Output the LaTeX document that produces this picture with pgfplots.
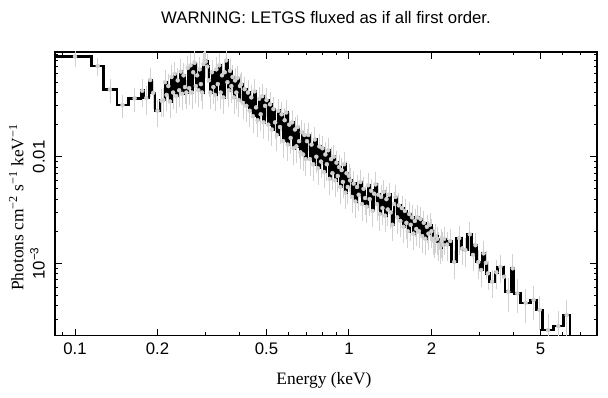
\documentclass[border=0pt]{standalone}
\usepackage{pgfplots}
\pgfplotsset{compat=1.18}
\usepackage{pgfplotstable}
\usepackage{fontspec}
\setmainfont{Liberation Sans}
\newfontfamily\serif{Liberation Serif}

% x = left bin edge (keV), xc = error-bar position, y = flux, e = relative error
\pgfplotstableread{
x xc y e
0.080 0.100 0.0871 0.2
0.115 0.121 0.0710 0.2
0.127 0.134 0.0427 0.25
0.142 0.149 0.0305 0.25
0.157 0.165 0.0353 0.25
0.174 0.176 0.0416 0.3
0.178 0.182 0.0355 0.3
0.186 0.188 0.0524 0.3
0.1905 0.193 0.0398 0.3
0.196 0.200 0.0270 0.3
0.204 0.207 0.0335 0.3
0.210 0.210 0.034 0.3
0.213 0.213 0.050 0.3
0.216 0.216 0.038 0.3
0.219 0.219 0.046 0.3
0.222 0.222 0.033 0.3
0.225 0.225 0.056 0.3
0.228 0.228 0.040 0.3
0.231 0.231 0.060 0.3
0.234 0.234 0.037 0.3
0.237 0.237 0.052 0.3
0.240 0.240 0.042 0.3
0.243 0.243 0.063 0.3
0.246 0.246 0.039 0.3
0.249 0.249 0.058 0.3
0.252 0.252 0.045 0.3
0.255 0.255 0.040 0.3
0.258 0.258 0.068 0.3
0.261 0.261 0.044 0.3
0.264 0.264 0.072 0.3
0.267 0.267 0.040 0.3
0.270 0.270 0.062 0.3
0.273 0.273 0.076 0.3
0.276 0.276 0.046 0.3
0.279 0.279 0.058 0.3
0.282 0.282 0.042 0.3
0.285 0.285 0.066 0.3
0.288 0.288 0.048 0.3
0.291 0.291 0.040 0.3
0.294 0.294 0.074 0.3
0.297 0.297 0.080 0.3
0.300 0.300 0.078 0.3
0.304 0.304 0.070 0.3
0.308 0.308 0.052 0.3
0.312 0.312 0.040 0.3
0.316 0.316 0.062 0.3
0.320 0.320 0.045 0.3
0.324 0.324 0.038 0.3
0.328 0.328 0.066 0.3
0.332 0.332 0.048 0.3
0.336 0.336 0.072 0.3
0.340 0.340 0.040 0.3
0.344 0.344 0.058 0.3
0.348 0.348 0.036 0.3
0.352 0.352 0.062 0.3
0.356 0.356 0.080 0.3
0.360 0.360 0.050 0.3
0.364 0.364 0.042 0.3
0.368 0.368 0.064 0.3
0.372 0.372 0.046 0.3
0.376 0.376 0.056 0.3
0.380 0.380 0.036 0.3
0.384 0.384 0.052 0.3
0.388 0.388 0.040 0.3
0.392 0.392 0.055 0.3
0.396 0.396 0.034 0.3
0.400 0.400 0.046 0.3
0.404 0.404 0.048 0.3
0.410 0.410 0.032 0.3
0.416 0.416 0.043 0.3
0.422 0.422 0.030 0.3
0.428 0.428 0.040 0.3
0.434 0.434 0.027 0.3
0.440 0.440 0.036 0.3
0.446 0.446 0.024 0.3
0.452 0.452 0.041 0.3
0.458 0.458 0.029 0.3
0.464 0.464 0.022 0.3
0.470 0.470 0.035 0.3
0.476 0.476 0.025 0.3
0.482 0.482 0.037 0.3
0.488 0.488 0.021 0.3
0.494 0.494 0.030 0.3
0.5000 0.5000 0.034 0.3
0.5075 0.5075 0.020 0.3
0.5150 0.5150 0.031 0.3
0.5225 0.5225 0.018 0.3
0.5300 0.5300 0.028 0.3
0.5375 0.5375 0.021 0.3
0.5450 0.5450 0.016 0.3
0.5525 0.5525 0.027 0.3
0.5600 0.5600 0.019 0.3
0.5675 0.5675 0.025 0.3
0.5750 0.5750 0.014 0.3
0.5825 0.5825 0.022 0.3
0.5900 0.5900 0.026 0.3
0.5975 0.5975 0.013 0.3
0.6050 0.6050 0.020 0.3
0.6125 0.6125 0.015 0.3
0.6200 0.6200 0.021 0.3
0.6275 0.6275 0.012 0.3
0.6350 0.6350 0.018 0.3
0.6425 0.6425 0.0125 0.3
0.6500 0.6500 0.019 0.3
0.6575 0.6575 0.014 0.3
0.6650 0.6650 0.011 0.3
0.6725 0.6725 0.017 0.3
0.6800 0.6800 0.0105 0.3
0.6875 0.6875 0.016 0.3
0.6950 0.6950 0.0095 0.3
0.7025 0.7025 0.014 0.3
0.71 0.71 0.0160 0.3
0.72 0.72 0.0095 0.3
0.73 0.73 0.0130 0.3
0.74 0.74 0.0085 0.3
0.75 0.75 0.0145 0.3
0.76 0.76 0.0100 0.3
0.77 0.77 0.0078 0.3
0.78 0.78 0.0125 0.3
0.79 0.79 0.0090 0.3
0.80 0.80 0.0120 0.3
0.81 0.81 0.0072 0.3
0.82 0.82 0.0105 0.3
0.83 0.83 0.0085 0.3
0.84 0.84 0.0115 0.3
0.85 0.85 0.0062 0.3
0.86 0.86 0.0095 0.3
0.87 0.87 0.0070 0.3
0.88 0.88 0.0100 0.3
0.89 0.89 0.0060 0.3
0.90 0.90 0.0088 0.3
0.91 0.91 0.0066 0.3
0.92 0.92 0.0080 0.3
0.93 0.93 0.0052 0.3
0.94 0.94 0.0075 0.3
0.95 0.95 0.0058 0.3
0.96 0.96 0.0085 0.3
0.97 0.97 0.0046 0.3
0.98 0.98 0.0070 0.3
0.99 0.99 0.0052 0.3
1.00 1.00 0.0066 0.3
1.010 1.010 0.0060 0.3
1.025 1.025 0.0042 0.3
1.040 1.040 0.0056 0.3
1.055 1.055 0.0038 0.3
1.070 1.070 0.0052 0.3
1.085 1.085 0.0044 0.3
1.100 1.100 0.0058 0.3
1.115 1.115 0.0036 0.3
1.130 1.130 0.0050 0.3
1.145 1.145 0.0041 0.3
1.160 1.160 0.0034 0.3
1.175 1.175 0.0054 0.3
1.190 1.190 0.0040 0.3
1.205 1.205 0.0048 0.3
1.220 1.220 0.0031 0.3
1.235 1.235 0.0045 0.3
1.250 1.250 0.0055 0.3
1.265 1.265 0.0036 0.3
1.280 1.280 0.0044 0.3
1.295 1.295 0.0029 0.3
1.310 1.310 0.0042 0.3
1.325 1.325 0.0033 0.3
1.340 1.340 0.0047 0.3
1.355 1.355 0.0028 0.3
1.370 1.370 0.0040 0.3
1.385 1.385 0.0032 0.3
1.40 1.40 0.0044 0.3
1.42 1.42 0.0030 0.3
1.44 1.44 0.0023 0.3
1.46 1.46 0.0036 0.3
1.48 1.48 0.0042 0.3
1.50 1.50 0.0027 0.3
1.52 1.52 0.0035 0.3
1.54 1.54 0.0025 0.3
1.56 1.56 0.0033 0.3
1.58 1.58 0.0022 0.3
1.60 1.60 0.0031 0.3
1.62 1.62 0.0024 0.3
1.64 1.64 0.0020 0.3
1.66 1.66 0.0029 0.3
1.68 1.68 0.0023 0.3
1.70 1.70 0.0027 0.3
1.72 1.72 0.0019 0.3
1.74 1.74 0.0025 0.3
1.76 1.76 0.0021 0.3
1.78 1.78 0.0027 0.3
1.800 1.800 0.0020 0.3
1.825 1.825 0.0026 0.3
1.850 1.850 0.0018 0.3
1.875 1.875 0.0024 0.3
1.900 1.900 0.0017 0.3
1.925 1.925 0.0022 0.3
1.950 1.950 0.0019 0.3
1.975 1.975 0.0023 0.3
2.000 2.000 0.0020 0.3
2.025 2.025 0.0017 0.3
2.050 2.050 0.0016 0.3
2.075 2.075 0.0018 0.3
2.100 2.100 0.0017 0.3
2.125 2.125 0.0015 0.3
2.150 2.150 0.0014 0.3
2.175 2.175 0.0016 0.3
2.200 2.200 0.0015 0.3
2.225 2.225 0.0017 0.3
2.25 2.28 0.00150 0.3
2.31 2.34 0.00162 0.3
2.371 2.42 0.00103 0.3
2.473 2.525 0.00172 0.3
2.578 2.59 0.00138 0.3
2.607 2.66 0.00133 0.3
2.712 2.76 0.00187 0.3
2.804 2.835 0.00120 0.3
2.867 2.895 0.00148 0.3
2.925 2.965 0.00103 0.3
3.007 3.035 0.000866 0.3
3.066 3.10 0.00124 0.3
3.136 3.16 0.00101 0.3
3.181 3.215 0.000806 0.3
3.251 3.33 0.000672 0.3
3.411 3.45 0.000824 0.3
3.489 3.57 0.000929 0.3
3.657 3.68 0.000749 0.3
3.709 3.815 0.000542 0.35
3.925 3.96 0.000898 0.35
4.002 4.115 0.000523 0.35
4.233 4.415 0.000427 0.35
4.604 4.72 0.000453 0.35
4.842 4.965 0.000365 0.35
5.093 5.325 0.000237 0.4
5.568 5.805 0.000258 0.4
6.055 6.23 0.000327 0.4
6.407 6.407 0.00001 0
}\spec

\begin{document}
\begin{tikzpicture}
\useasboundingbox (0,0) rectangle (608bp,398bp);
\node[font=\fontsize{16.8}{20}\selectfont] at (326bp,380bp) {WARNING: LETGS fluxed as if all first order.};
\begin{axis}[
  at={(55bp,62.3bp)}, anchor=south west,
  scale only axis, width=542bp, height=283.7bp,
  xmode=log, ymode=log,
  xmin=0.0845, xmax=8.04, ymin=2.096e-4, ymax=0.0960,
  axis line style={line width=1.3bp},
  tick style={line width=1bp, black},
  tick align=inside, tick pos=both,
  major tick length=7bp, minor tick length=3.5bp,
  xtick={0.1,0.2,0.5,1,2,5}, xticklabels={0.1,0.2,0.5,1,2,5},
  minor xtick={0.09,0.3,0.4,0.6,0.7,0.8,0.9,3,4,6,7,8},
  ytick={0.001,0.01}, yticklabels={10\textsuperscript{−3},0.01},
  minor ytick={3e-4,4e-4,5e-4,6e-4,7e-4,8e-4,9e-4,0.002,0.003,0.004,0.005,0.006,0.007,0.008,0.009,0.02,0.03,0.04,0.05,0.06,0.07,0.08,0.09},
  xticklabel style={font=\fontsize{16.8}{20}\selectfont, anchor=north, inner sep=0pt},
  xticklabel shift=7bp,
  yticklabel style={font=\fontsize{16.8}{20}\selectfont, rotate=90, anchor=south, inner sep=0pt},
  yticklabel shift=10bp,
  xlabel={Energy (keV)},
  ylabel={Photons cm\textsuperscript{−2} s\textsuperscript{−1} keV\textsuperscript{−1}},
  every axis x label/.style={at={(axis description cs:0.4963,-0.1703)}, anchor=base, font=\serif\fontsize{17.5}{21}\selectfont},
  every axis y label/.style={at={(axis description cs:-0.0585,0.452)}, rotate=90, anchor=base, font=\serif\fontsize{17.5}{21}\selectfont},
  clip=true,
]
\addplot[only marks, mark=none, color=black!18,
  error bars/.cd, y dir=both, y explicit relative, error mark=none,
  error bar style={line width=0.7bp, color=black!18}]
  table[x=xc, y=y, y error=e] {\spec};
\addplot[const plot, black, line width=2.5bp] table[x=x, y=y] {\spec};
\end{axis}
\end{tikzpicture}
\end{document}
